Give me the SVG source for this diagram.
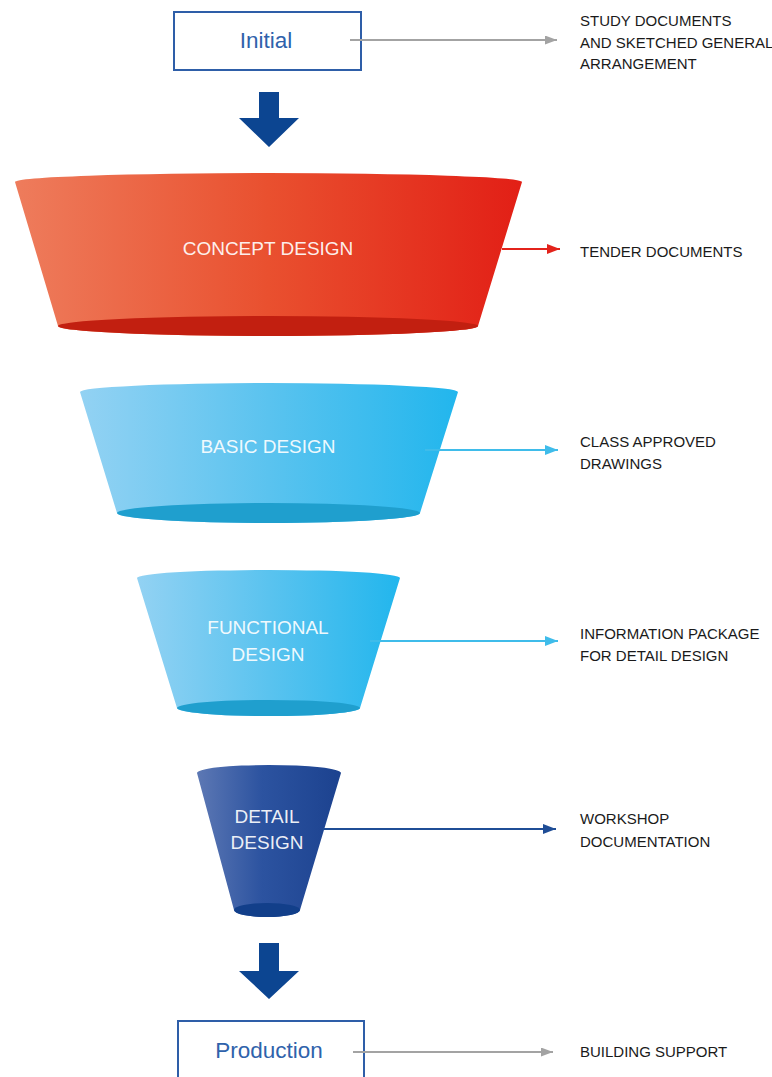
<svg xmlns="http://www.w3.org/2000/svg" width="772" height="1077" viewBox="0 0 772 1077">
<style>
.box{fill:#fff;stroke:#2e5ea8;stroke-width:2}
.boxtxt{font-family:"Liberation Sans",Arial,sans-serif;font-size:22.5px;fill:#2f62ab;text-anchor:middle}
.cone{font-family:"Liberation Sans",Arial,sans-serif;font-size:19px;fill:#fff;fill-opacity:0.92;text-anchor:middle}
.lbl{font-family:"Liberation Sans",Arial,sans-serif;font-size:15px;fill:#1a1a1a}
.down{fill:#0c4591}
</style>
<defs>
<linearGradient id="gRed" x1="0" y1="0" x2="1" y2="0">
<stop offset="0" stop-color="#ee7c5c"/><stop offset="0.5" stop-color="#e9502f"/><stop offset="1" stop-color="#e21f16"/>
</linearGradient>
<linearGradient id="gBlue" x1="0" y1="0" x2="1" y2="0">
<stop offset="0" stop-color="#93d2f3"/><stop offset="0.5" stop-color="#5ac3ef"/><stop offset="1" stop-color="#22b6ed"/>
</linearGradient>
<linearGradient id="gDark" x1="0" y1="0" x2="1" y2="0">
<stop offset="0" stop-color="#5d78b4"/><stop offset="0.45" stop-color="#2c53a0"/><stop offset="1" stop-color="#1c428f"/>
</linearGradient>
<marker id="mGray" markerUnits="userSpaceOnUse" markerWidth="12" markerHeight="9" refX="12" refY="4.5" orient="auto"><path d="M0,0 L12,4.5 L0,9 Z" fill="#a3a3a3"/></marker>
<marker id="mRed" markerUnits="userSpaceOnUse" markerWidth="13" markerHeight="10" refX="13" refY="5" orient="auto"><path d="M0,0 L13,5 L0,10 Z" fill="#e3231b"/></marker>
<marker id="mLight" markerUnits="userSpaceOnUse" markerWidth="13" markerHeight="10" refX="13" refY="5" orient="auto"><path d="M0,0 L13,5 L0,10 Z" fill="#3fbcea"/></marker>
<marker id="mDark" markerUnits="userSpaceOnUse" markerWidth="13" markerHeight="10" refX="13" refY="5" orient="auto"><path d="M0,0 L13,5 L0,10 Z" fill="#1f4d96"/></marker>
</defs>

<g id="initial">
<rect class="box" x="174" y="12" width="187" height="58"/>
<text class="boxtxt" x="266" y="48">Initial</text>
</g>

<g id="arrow-down-1"><polygon class="down" points="259,92 279,92 279,118 299,118 269,147 239,118 259,118"/></g>

<g id="concept">
<path d="M15,182 A253.5,9 0 0 1 522,182 L478,326 A210,10 0 0 1 58,326 Z" fill="url(#gRed)"/>
<ellipse cx="268" cy="326" rx="210" ry="10" fill="#c21f10"/>
<text class="cone" x="268" y="255">CONCEPT DESIGN</text>
</g>

<g id="basic">
<path d="M80,392 A189,9 0 0 1 458,392 L420,513 A151.5,10 0 0 1 117,513 Z" fill="url(#gBlue)"/>
<ellipse cx="268.5" cy="513" rx="151.5" ry="10" fill="#1f9fce"/>
<text class="cone" x="268" y="453">BASIC DESIGN</text>
</g>

<g id="functional">
<path d="M137,578 A131.5,8 0 0 1 400,578 L360,708 A91.5,8 0 0 1 177,708 Z" fill="url(#gBlue)"/>
<ellipse cx="268.5" cy="708" rx="91.5" ry="8" fill="#1f9fce"/>
<text class="cone" x="268" y="634">FUNCTIONAL</text>
<text class="cone" x="268" y="661">DESIGN</text>
</g>

<g id="detail">
<path d="M197,773 A72,8 0 0 1 341,773 L300,910 A33,7 0 0 1 234,910 Z" fill="url(#gDark)"/>
<ellipse cx="267" cy="910" rx="33" ry="7" fill="#123f8a"/>
<text class="cone" x="267" y="823">DETAIL</text>
<text class="cone" x="267" y="849">DESIGN</text>
</g>

<g id="arrow-down-2"><polygon class="down" points="259,943 279,943 279,971 299,971 269,999 239,971 259,971"/></g>

<g id="production">
<rect class="box" x="178" y="1021" width="186" height="70"/>
<text class="boxtxt" x="269" y="1058">Production</text>
</g>

<g id="connectors" fill="none" stroke-width="2">
<line x1="350" y1="40" x2="557" y2="40" stroke="#a3a3a3" marker-end="url(#mGray)"/>
<line x1="502" y1="249" x2="560" y2="249" stroke="#e3231b" marker-end="url(#mRed)"/>
<line x1="425" y1="450" x2="558" y2="450" stroke="#3fbcea" marker-end="url(#mLight)"/>
<line x1="370" y1="641" x2="558" y2="641" stroke="#3fbcea" marker-end="url(#mLight)"/>
<line x1="323" y1="829" x2="556" y2="829" stroke="#1f4d96" marker-end="url(#mDark)"/>
<line x1="353" y1="1052" x2="553" y2="1052" stroke="#a3a3a3" marker-end="url(#mGray)"/>
</g>

<g id="labels">
<text class="lbl" x="580" y="26">STUDY DOCUMENTS</text>
<text class="lbl" x="580" y="48">AND SKETCHED GENERAL</text>
<text class="lbl" x="580" y="69">ARRANGEMENT</text>
<text class="lbl" x="580" y="257">TENDER DOCUMENTS</text>
<text class="lbl" x="580" y="447">CLASS APPROVED</text>
<text class="lbl" x="580" y="469">DRAWINGS</text>
<text class="lbl" x="580" y="639">INFORMATION PACKAGE</text>
<text class="lbl" x="580" y="661">FOR DETAIL DESIGN</text>
<text class="lbl" x="580" y="824">WORKSHOP</text>
<text class="lbl" x="580" y="847">DOCUMENTATION</text>
<text class="lbl" x="580" y="1057">BUILDING SUPPORT</text>
</g>
</svg>
